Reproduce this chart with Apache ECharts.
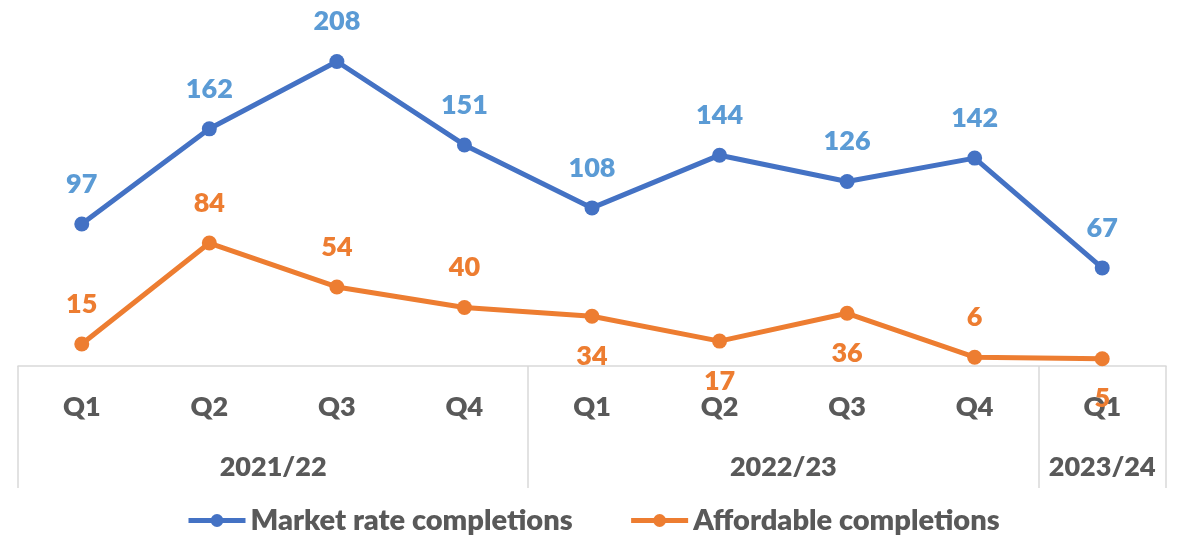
<!DOCTYPE html>
<html>
<head>
<meta charset="utf-8">
<script src="https://cdn.jsdelivr.net/npm/echarts@6/dist/echarts.min.js"></script>
<style>
  html, body { margin: 0; padding: 0; background: #fff; }
  #chart { width: 1178px; height: 536px; }
</style>
</head>
<body>
<div id="chart"></div>
<script>
const quarters = ["Q1", "Q2", "Q3", "Q4", "Q1", "Q2", "Q3", "Q4", "Q1"];
const years = ["2021/22", "2022/23", "2023/24"];
// year groups: start index and number of quarters
const yearStart = [0, 4, 8];
const yearSize = [4, 4, 1];
const marketRate = [97, 162, 208, 151, 108, 144, 126, 142, 67];
const affordable = [15, 84, 54, 40, 34, 17, 36, 6, 5];
const affordableLabelPos = ["top", "top", "top", "top", "bottom", "bottom", "bottom", "top", "bottom"];

const font = "Lato";
const grey = "#595959";
const lineGrey = "#D9D9D9";
const weight = 800;

const chart = echarts.init(document.getElementById("chart"));

const boundaries = yearStart.concat([yearStart[2] + yearSize[2]]);
const yearCenters = yearStart.map((s, i) => s + yearSize[i] / 2);

chart.setOption({
  animation: false,
  textStyle: { fontFamily: font },
  grid: { left: 18, right: 12, top: -3, bottom: 170 },
  legend: {
    bottom: -4,
    left: 181,
    itemWidth: 57,
    itemHeight: 16,
    itemGap: 56,
    lineStyle: { width: 5 },
    textStyle: { color: grey, fontSize: 29, fontWeight: weight, fontFamily: font },
    data: ["Market rate completions", "Affordable completions"]
  },
  xAxis: [
    {
      type: "category",
      data: quarters,
      boundaryGap: true,
      axisLine: { lineStyle: { color: lineGrey, width: 1.5 } },
      axisTick: { show: false },
      axisLabel: { color: grey, fontSize: 27, fontWeight: weight, margin: 28, fontFamily: font }
    },
    {
      type: "value",
      min: 0,
      max: 9,
      position: "bottom",
      axisLine: { show: false },
      splitLine: { show: false },
      axisTick: {
        show: true,
        customValues: boundaries,
        length: 122,
        lineStyle: { color: lineGrey, width: 1.5 }
      },
      axisLabel: {
        customValues: yearCenters,
        formatter: (v) => years[yearCenters.indexOf(v)] || "",
        color: grey,
        fontSize: 27,
        fontWeight: weight,
        margin: 88,
        fontFamily: font
      }
    }
  ],
  yAxis: {
    type: "value",
    min: 0,
    max: 250,
    show: false,
    splitLine: { show: false }
  },
  series: [
    {
      name: "Market rate completions",
      type: "line",
      data: marketRate,
      symbol: "circle",
      symbolSize: 15,
      color: "#4472C4",
      lineStyle: { width: 5, color: "#4472C4" },
      itemStyle: { color: "#4472C4" },
      label: {
        show: true,
        position: "top",
        distance: 19,
        color: "#5B9BD5",
        fontSize: 27,
        fontWeight: weight,
        fontFamily: font
      }
    },
    {
      name: "Affordable completions",
      type: "line",
      data: affordable.map((v, i) => ({
        value: v,
        label: { position: affordableLabelPos[i] }
      })),
      symbol: "circle",
      symbolSize: 15,
      color: "#ED7D31",
      lineStyle: { width: 5, color: "#ED7D31" },
      itemStyle: { color: "#ED7D31" },
      label: {
        show: true,
        distance: 19,
        color: "#ED7D31",
        fontSize: 27,
        fontWeight: weight,
        fontFamily: font
      },
      z: 5
    }
  ]
});
</script>
</body>
</html>
